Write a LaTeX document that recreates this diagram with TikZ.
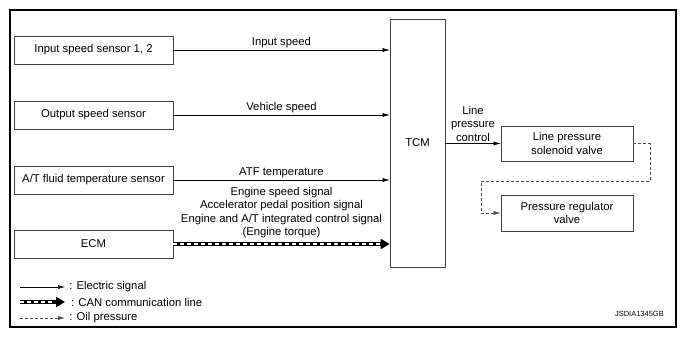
\documentclass[tikz,border=0pt]{standalone}
\usepackage{fontspec}
\setmainfont{Liberation Sans}
\usepackage{tikz}
\usetikzlibrary{arrows.meta}

\begin{document}
\begin{tikzpicture}[x=1pt, y=-1pt,
    every node/.style={font=\fontsize{11.3}{13.5}\selectfont, inner sep=1pt},
    unit/.style={draw=black!75, line width=0.7pt, minimum height=28pt, align=center},
    elec/.style={line width=0.6pt, -{Latex[length=7pt,width=4pt]}},
    can/.style={line width=4.2pt, -{Triangle[length=9pt,width=10pt]},
        postaction={draw=white, line width=1.7pt, dash pattern=on 4pt off 3pt, shorten >=10pt, -}},
    oil/.style={draw=black!70, line width=0.6pt, dash pattern=on 3pt off 2pt, -{Latex[length=7pt,width=4pt]}}]
        \useasboundingbox (0,0) rectangle (686,339);
        \draw[line width=2pt] (10,10) rectangle (676,327);

        % Define the nodes
        \node[unit, minimum width=159pt] (ISS) at (93.5,50) {Input speed sensor 1, 2};
        \node[unit, minimum width=159pt] (OSS) at (93.5,115) {Output speed sensor};
        \node[unit, minimum width=159pt] (ATF) at (93.5,180) {A/T fluid temperature sensor};
        \node[unit, minimum width=159pt] (ECM) at (93.5,244) {ECM};
        \node[unit, minimum width=55pt, minimum height=248pt] (TCM) at (417.5,143) {TCM};
        \node[unit, minimum width=132pt, minimum height=35pt] (LPSV) at (567,143.5) {Line pressure\\solenoid valve};
        \node[unit, minimum width=132pt, minimum height=36pt] (PRV) at (567,213) {Pressure regulator\\valve};
        \coordinate (bendA) at (650,181);
        \coordinate (bendB) at (481,181);

        \begin{scope}[every node/.style={font=\fontsize{11.3}{13.5}\selectfont, align=center, inner sep=2pt}]
        \draw[elec] (ISS.east) -- (ISS.east -| TCM.west) node[midway, above] {Input speed};
        \draw[elec] (OSS.east) -- (OSS.east -| TCM.west) node[midway, above] {Vehicle speed};
        \draw[elec] (ATF.east) -- (ATF.east -| TCM.west) node[midway, above] {ATF temperature};
        \draw[can] (ECM.east) -- (ECM.east -| TCM.west) node[midway, above=2pt] {Engine speed signal\\Accelerator pedal position signal\\Engine and A/T integrated control signal\\(Engine torque)};
        \draw[elec] (TCM.east |- LPSV.west) -- (LPSV.west) node[midway, above] {Line\\pressure\\control};
        \draw[oil] (LPSV.east) -| (bendA) -- (bendB) |- (PRV.west);
        \end{scope}

        % Legend
        \coordinate (elecS) at (20,287);
        \coordinate (elecE) at (65,287);
        \coordinate (canS) at (20,302);
        \coordinate (canE) at (65,302);
        \coordinate (oilS) at (20,318);
        \coordinate (oilE) at (65,318);
        \draw[elec] (elecS) -- (elecE) node[right=3pt] {: Electric signal};
        \draw[can] (canS) -- (canE) node[right=3pt] {: CAN communication line};
        \draw[oil] (oilS) -- (oilE) node[right=3pt, black] {: Oil pressure};
        \node[font=\fontsize{7.5}{9}\selectfont, anchor=east] (code) at (665,314) {JSDIA1345GB};
    \end{tikzpicture}
\end{document}
